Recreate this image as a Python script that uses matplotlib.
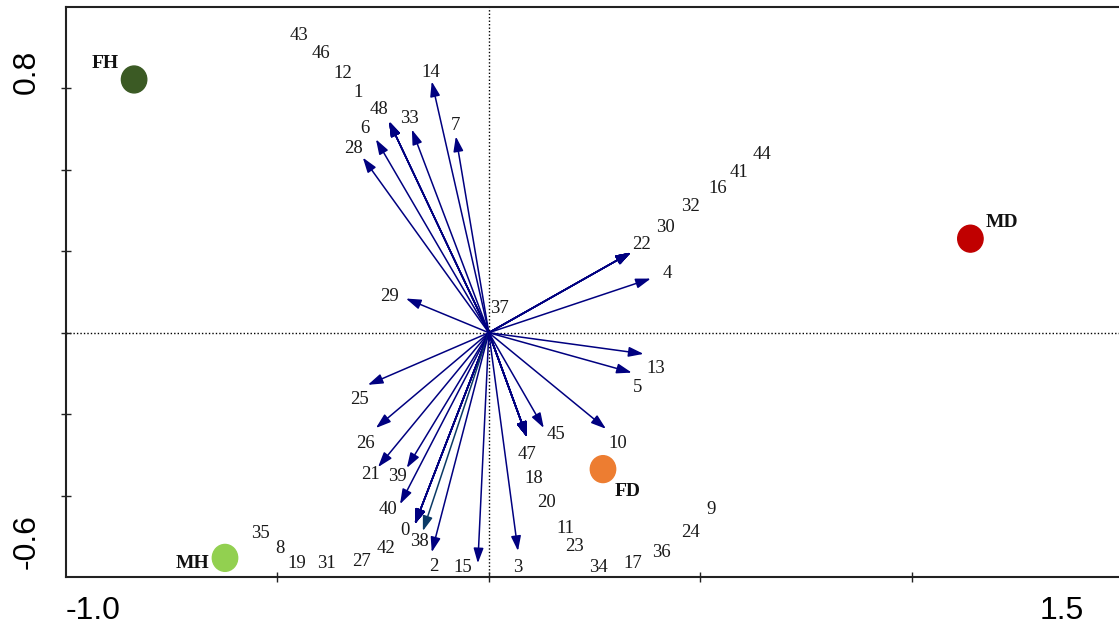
import numpy as np
import matplotlib
matplotlib.use("Agg")
import matplotlib.pyplot as plt
from matplotlib.patches import Ellipse
from matplotlib.transforms import blended_transform_factory

# species scores (arrow tips)
species = ["14", "7", "33", "48", "1", "12", "46", "43", "6", "28", "29",
           "22", "30", "32", "16", "41", "44", "4", "13", "5", "25", "26",
           "21", "39", "40", "0", "42", "27", "31", "19", "8", "35", "38",
           "2", "15", "3", "47", "18", "20", "11", "23", "34", "17", "36",
           "24", "9", "45", "10", "37"]
sp_x = [-0.135, -0.078, -0.182, -0.236, -0.236, -0.236, -0.236, -0.236, -0.267, -0.298, -0.196,
        0.336, 0.336, 0.336, 0.336, 0.336, 0.336, 0.383, 0.366, 0.338, -0.286, -0.267,
        -0.262, -0.194, -0.210, -0.175, -0.175, -0.175, -0.175, -0.175, -0.175, -0.175, -0.156,
        -0.135, -0.026, 0.069, 0.090, 0.090, 0.090, 0.090, 0.090, 0.090, 0.090, 0.090,
        0.090, 0.090, 0.130, 0.277, 0.0]
sp_y = [0.617, 0.482, 0.499, 0.519, 0.519, 0.519, 0.519, 0.519, 0.475, 0.430, 0.084,
        0.197, 0.197, 0.197, 0.197, 0.197, 0.197, 0.133, -0.052, -0.098, -0.128, -0.234,
        -0.330, -0.332, -0.421, -0.470, -0.470, -0.470, -0.470, -0.470, -0.470, -0.470, -0.487,
        -0.539, -0.566, -0.536, -0.256, -0.256, -0.256, -0.256, -0.256, -0.256, -0.256, -0.256,
        -0.256, -0.256, -0.234, -0.236, 0.0]

# where each species label sits
lab_x = [-0.137, -0.080, -0.187, -0.260, -0.310, -0.345, -0.397, -0.449, -0.293, -0.319, -0.234,
         0.362, 0.418, 0.478, 0.541, 0.591, 0.645, 0.421, 0.395, 0.352, -0.307, -0.293,
         -0.281, -0.215, -0.239, -0.199, -0.243, -0.300, -0.383, -0.454, -0.494, -0.539, -0.163,
         -0.130, -0.061, 0.069, 0.090, 0.106, 0.137, 0.182, 0.203, 0.260, 0.340, 0.409,
         0.478, 0.525, 0.158, 0.305, 0.026]
lab_y = [0.640, 0.509, 0.526, 0.549, 0.590, 0.637, 0.686, 0.731, 0.502, 0.453, 0.089,
         0.216, 0.258, 0.310, 0.354, 0.394, 0.438, 0.145, -0.089, -0.135, -0.165, -0.273,
         -0.347, -0.354, -0.435, -0.485, -0.531, -0.563, -0.568, -0.566, -0.529, -0.492, -0.512,
         -0.573, -0.576, -0.576, -0.298, -0.359, -0.416, -0.480, -0.526, -0.576, -0.568, -0.539,
         -0.490, -0.435, -0.251, -0.271, 0.059]

# sample groups
groups = ["FH", "MH", "MD", "FD"]
grp_x = [-0.839, -0.624, 1.139, 0.270]
grp_y = [0.622, -0.553, 0.231, -0.335]
grp_lx = [-0.908, -0.702, 1.213, 0.329]
grp_ly = [0.662, -0.566, 0.271, -0.389]
grp_col = ["#3b5a24", "#92d050", "#c00000", "#ed7d31"]

fig = plt.figure(figsize=(11.19, 6.30), dpi=100)
ax = fig.add_axes([0.059, 0.0841, 0.9446, 0.9048])
ax.set_xlim(-1.0, 1.5)
ax.set_ylim(-0.6, 0.8)

ax.axhline(0, color="black", lw=1.0, ls=(0, (1, 1.5)), zorder=1)
ax.axvline(0, color="black", lw=1.0, ls=(0, (1, 1.5)), zorder=1)

for name, x, y in zip(species, sp_x, sp_y):
    if x == 0 and y == 0:
        continue
    col = "#0b3a66" if name == "38" else "#000080"
    ax.annotate("", xy=(x, y), xytext=(0, 0),
                arrowprops=dict(arrowstyle="-|>,head_length=0.9,head_width=0.3",
                                mutation_scale=10, color=col, lw=1.1,
                                shrinkA=0, shrinkB=0), zorder=3)

for name, x, y in zip(species, lab_x, lab_y):
    ax.text(x, y, name, fontsize=13.5, family="Liberation Serif", color="#1a1a1a",
            ha="center", va="center", zorder=4)

for g, x, y, lx, ly, c in zip(groups, grp_x, grp_y, grp_lx, grp_ly, grp_col):
    ax.add_patch(Ellipse((x, y), 0.060, 0.066, color=c, zorder=5))
    ax.text(lx, ly, g, fontsize=14, family="Liberation Serif", fontweight="bold",
            color="#111111", ha="center", va="center", zorder=5)

for s in ["left", "top", "bottom"]:
    ax.spines[s].set_linewidth(1.5)
    ax.spines[s].set_color("#222222")
ax.spines["right"].set_visible(False)

ax.set_xticks([-0.5, 0.0, 0.5, 1.0])
ax.set_yticks([-0.4, -0.2, 0.0, 0.2, 0.4, 0.6])
ax.tick_params(direction="inout", length=7, width=1.0, color="#222222",
               labelbottom=False, labelleft=False)

# axis end labels
tb = blended_transform_factory(ax.transData, fig.transFigure)
ax.text(-1.0, 0.030, "-1.0", transform=tb, fontsize=23, family="Liberation Sans",
        ha="left", va="center", clip_on=False)
ax.text(1.355, 0.030, "1.5", transform=tb, fontsize=23, family="Liberation Sans",
        ha="center", va="center", clip_on=False)
tl = blended_transform_factory(fig.transFigure, ax.transData)
ax.text(0.024, 0.640, "0.8", transform=tl, fontsize=23, family="Liberation Sans",
        rotation=90, ha="center", va="center", clip_on=False)
ax.text(0.024, -0.512, "-0.6", transform=tl, fontsize=23, family="Liberation Sans",
        rotation=90, ha="center", va="center", clip_on=False)

fig.savefig("out.png", dpi=100)
